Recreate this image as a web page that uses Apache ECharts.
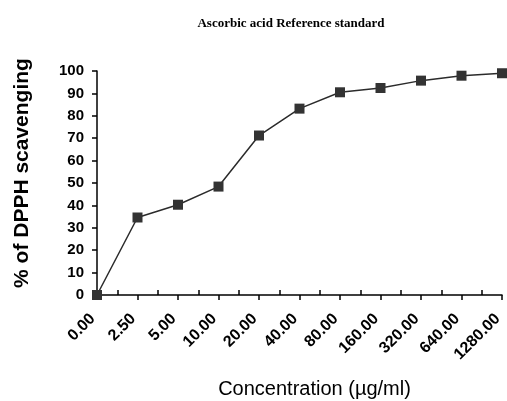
<!DOCTYPE html>
<html>
<head>
<meta charset="utf-8">
<script src="https://cdn.jsdelivr.net/npm/echarts@6/dist/echarts.min.js"></script>
<style>
  html, body { margin: 0; padding: 0; background: #fff; }
  #main { width: 507px; height: 401px; }
</style>
</head>
<body>
<div id="main"></div>
<script>
// concentration categories (µg/ml)
const concentrations = ['0.00', '2.50', '5.00', '10.00', '20.00', '40.00', '80.00', '160.00', '320.00', '640.00', '1280.00']
// % of DPPH scavenging
const scavenging = [0, 34.6, 40.3, 48.4, 71.2, 83.2, 90.5, 92.4, 95.7, 97.9, 99.0]
const gaps = ['', '', '', '', '', '', '', '', '', '']

const chart = echarts.init(document.getElementById('main'))
const axisFont = 'Liberation Sans, Arial, sans-serif'

chart.setOption({
  animation: false,
  title: {
    text: 'Ascorbic acid Reference standard',
    left: 286,
    top: 12,
    textAlign: 'center',
    textStyle: { fontFamily: 'Liberation Serif, serif', fontSize: 13, fontWeight: 'bold', color: '#000' }
  },
  grid: { left: 97, right: 5, top: 71, bottom: 106, containLabel: false, outerBoundsMode: 'none' },
  xAxis: [
    {
      type: 'category',
      data: concentrations,
      boundaryGap: false,
      name: 'Concentration (µg/ml)',
      nameLocation: 'middle',
      nameGap: 84,
      nameTextStyle: { fontFamily: axisFont, fontSize: 20, color: '#000', padding: [0, 0, 0, 30] },
      axisLine: { lineStyle: { color: '#000', width: 1.5 } },
      axisTick: { show: true, length: 5, lineStyle: { color: '#000', width: 1.5 } },
      axisLabel: { rotate: 45, margin: 17, padding: [0, 6, 0, 0], fontFamily: axisFont, fontSize: 16, fontWeight: 'bold', color: '#000' },
      splitLine: { show: false }
    },
    {
      // half-way ticks on the inside
      type: 'category',
      data: gaps,
      boundaryGap: true,
      position: 'bottom',
      axisLine: { show: false },
      axisTick: { show: true, inside: true, alignWithLabel: true, length: 5, lineStyle: { color: '#000', width: 1.5 } },
      axisLabel: { show: false },
      splitLine: { show: false }
    }
  ],
  yAxis: {
    type: 'value',
    min: 0,
    max: 100,
    interval: 10,
    name: '% of DPPH scavenging',
    nameLocation: 'middle',
    nameGap: 64,
    nameTextStyle: { fontFamily: axisFont, fontSize: 21, fontWeight: 'bold', color: '#000', padding: [0, 0, 0, 20] },
    axisLine: { show: true, lineStyle: { color: '#000', width: 1.5 } },
    axisTick: { show: true, length: 5, lineStyle: { color: '#000', width: 1.5 } },
    axisLabel: { margin: 13, fontFamily: axisFont, fontSize: 15, fontWeight: 'bold', color: '#000' },
    splitLine: { show: false }
  },
  series: [
    {
      type: 'line',
      data: scavenging,
      symbol: 'rect',
      symbolSize: 10,
      lineStyle: { color: '#2b2b2b', width: 1.5 },
      itemStyle: { color: '#333' }
    }
  ]
})
</script>
</body>
</html>
